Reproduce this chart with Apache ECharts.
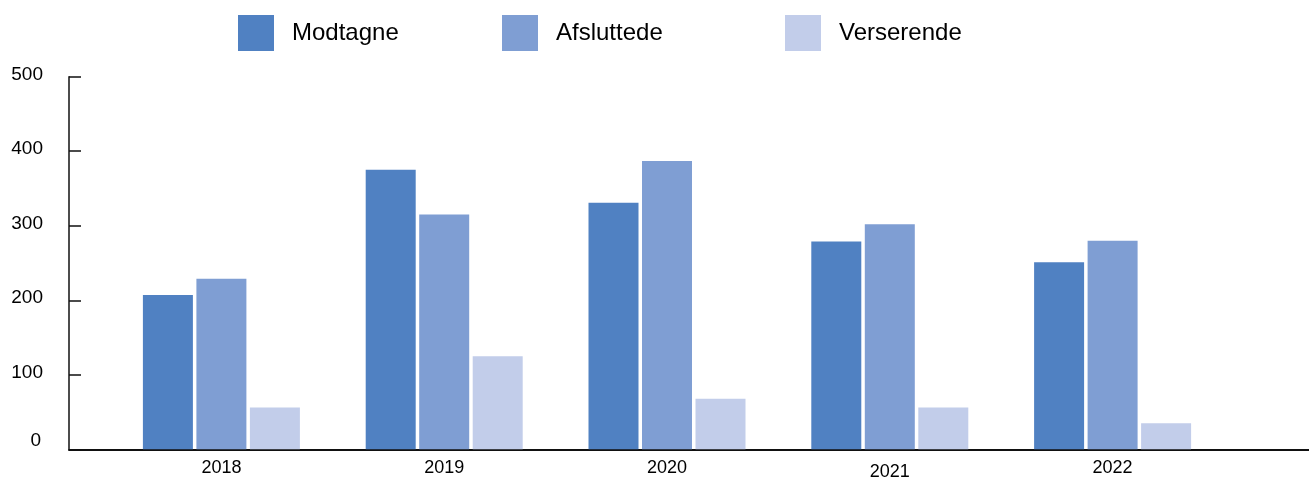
<!DOCTYPE html>
<html>
<head>
<meta charset="utf-8">
<script src="https://cdn.jsdelivr.net/npm/echarts@6/dist/echarts.min.js"></script>
<style>
html,body{margin:0;padding:0;background:#fff;}
#c{width:1309px;height:477px;}
</style>
</head>
<body>
<div id="c"></div>
<script>
const categories = ['2018', '2019', '2020', '2021', '2022'];
const modtagne = [207, 375, 331, 279, 251];
const afsluttede = [229, 315, 387, 302, 280];
const verserende = [56, 125, 68, 56, 35];
const seriesNames = ['Modtagne', 'Afsluttede', 'Verserende'];
const colors = ['#5081C2', '#7F9ED3', '#C2CDEA'];
const yTicks = { min: 0, max: 500, interval: 100 };

const font = '"Liberation Sans", Arial, sans-serif';
const chart = echarts.init(document.getElementById('c'), null, { renderer: 'canvas' });

const legendLefts = [238, 502, 785];
const legends = seriesNames.map((n, i) => ({
  data: [n],
  left: legendLefts[i],
  top: 15,
  padding: 0,
  itemWidth: 36,
  itemHeight: 36,
  icon: 'rect',
  selectedMode: false,
  textStyle: { fontFamily: font, fontSize: 24, color: '#000', padding: [0, 0, 0, 13] }
}));

const values = [modtagne, afsluttede, verserende];

chart.setOption({
  animation: false,
  color: colors,
  legend: legends,
  grid: [
    { left: 69, right: 0, top: 76.7, bottom: 27.7, containLabel: false, outerBoundsMode: 'none' },
    { left: 110, right: 85, top: 76.7, bottom: 27.7, containLabel: false, outerBoundsMode: 'none' }
  ],
  xAxis: [
    {
      gridIndex: 0, type: 'value', min: 0, max: 1,
      axisLine: { show: true, lineStyle: { color: '#111', width: 2 } },
      axisTick: { show: false }, axisLabel: { show: false }, splitLine: { show: false }
    },
    {
      gridIndex: 1, type: 'category', data: categories,
      axisLine: { show: false }, axisTick: { show: false }, splitLine: { show: false },
      axisLabel: {
        fontFamily: font, fontSize: 18, color: '#000', margin: 10,
        formatter: v => v === '2021' ? '{low|' + v + '}' : v,
        rich: { low: { fontFamily: font, fontSize: 18, color: '#000', padding: [4, 0, 0, 0] } }
      }
    }
  ],
  yAxis: [
    {
      gridIndex: 0, type: 'value', min: yTicks.min, max: yTicks.max, interval: yTicks.interval,
      axisLine: { show: true, lineStyle: { color: '#111', width: 1.5 } },
      axisTick: { show: true, inside: true, length: 12, lineStyle: { color: '#111', width: 1.5 } },
      splitLine: { show: false },
      axisLabel: {
        fontFamily: font, fontSize: 19, color: '#000', margin: 26, padding: [0, 0, 4, 0],
        formatter: v => v === 0 ? '{z|0}' : String(v),
        rich: { z: { fontFamily: font, fontSize: 19, color: '#000', padding: [0, 2, 14, 0] } }
      }
    },
    {
      gridIndex: 1, type: 'value', min: yTicks.min, max: yTicks.max, interval: yTicks.interval,
      show: false, splitLine: { show: false }
    }
  ],
  series: seriesNames.map((n, i) => ({
    name: n,
    type: 'bar',
    xAxisIndex: 1,
    yAxisIndex: 1,
    barWidth: 50,
    barGap: '7%',
    itemStyle: { color: colors[i] },
    data: values[i]
  }))
});
</script>
</body>
</html>
